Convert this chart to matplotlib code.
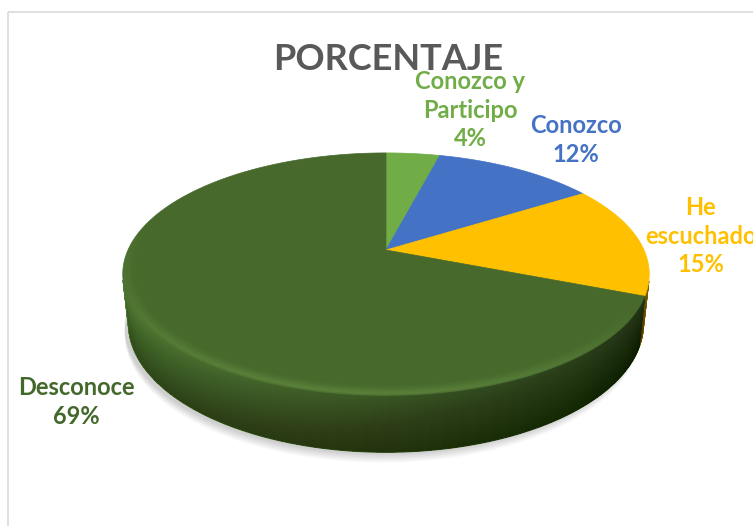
import numpy as np
import matplotlib.pyplot as plt
from matplotlib.patches import Polygon, Rectangle
from matplotlib.collections import LineCollection
import matplotlib.colors as mcolors

# datos
etiquetas = ['Conozco y\nParticipo', 'Conozco', 'He\nescuchado', 'Desconoce']
valores = [4, 12, 15, 69]
colores = ['#70AD47', '#4472C4', '#FFC000', '#476A2C']
colores_texto = ['#70AD47', '#4472C4', '#FFC000', '#43682B']
pos_texto = [(470, 110), (576, 140), (701, 236), (76, 402)]
titulo = 'PORCENTAJE'

W, H = 753, 526
CX, CY, ESC = 386, 250, 258
ELEV = np.radians(26.8)
DIST = 4.5
GROSOR = 0.218


def proyectar(theta, y, r=1.0):
    X = r * np.sin(theta)
    Z = -r * np.cos(theta)
    up = y * np.cos(ELEV) - Z * np.sin(ELEV)
    hacia = y * np.sin(ELEV) + Z * np.cos(ELEV)
    s = DIST / (DIST - hacia)
    return CX + X * s * ESC, CY - up * s * ESC


def tono(color, f):
    rgb = np.array(mcolors.to_rgb(color)) * f
    return tuple(np.clip(rgb, 0, 1))


fig = plt.figure(figsize=(W / 100, H / 100), dpi=100)
ax = fig.add_axes([0, 0, 1, 1])
ax.set_xlim(0, W)
ax.set_ylim(H, 0)
ax.axis('off')

ax.add_patch(Rectangle((8, 12), W, H, fill=False, ec='#d9d9d9', lw=1.2))

fracs = np.array(valores) / sum(valores)
limites = np.concatenate([[0], np.cumsum(fracs)]) * 2 * np.pi

# sombra
t = np.linspace(0, 2 * np.pi, 200)
bx, by = proyectar(t, -GROSOR)
for k in range(8):
    ax.add_patch(Polygon(np.column_stack([bx - 4, by + 2 + k * 1.2]),
                         closed=True, fc='#000000', ec='none', alpha=0.025, zorder=1))

# lado (solo la parte visible)
z_min = 1 / (DIST * np.cos(ELEV))
paso = np.radians(0.5)
for i, color in enumerate(colores):
    a0, a1 = limites[i], limites[i + 1]
    n = max(2, int((a1 - a0) / paso))
    angs = np.linspace(a0, a1, n + 1)
    for j in range(n):
        ta, tb = angs[j], angs[j + 1]
        tm = (ta + tb) / 2
        if -np.cos(tm) < z_min:
            continue
        c = tono(color, 0.8 - 0.34 * np.sin(tm))
        xa0, ya0 = proyectar(ta, 0.0)
        xb0, yb0 = proyectar(tb, 0.0)
        xa1, ya1 = proyectar(ta, -GROSOR)
        xb1, yb1 = proyectar(tb, -GROSOR)
        ax.add_patch(Polygon([(xa0, ya0), (xb0, yb0), (xb1, yb1), (xa1, ya1)],
                             closed=True, fc=c, ec=c, lw=0.8, zorder=2))

# degradado vertical del lado
ang_vis = np.arccos(-z_min)
arco_lado = np.linspace(ang_vis, 2 * np.pi - ang_vis, 300)
capas = 24
for k in range(1, capas):
    yk = -GROSOR * k / capas
    tx, ty = proyectar(arco_lado, yk)
    ux, uy = proyectar(arco_lado[::-1], -GROSOR)
    ax.add_patch(Polygon(np.column_stack([np.r_[tx, ux], np.r_[ty, uy]]),
                         closed=True, fc='black', ec='none', alpha=0.016, zorder=2.5))

# cara superior
for i, color in enumerate(colores):
    a0, a1 = limites[i], limites[i + 1]
    angs = np.linspace(a0, a1, max(3, int((a1 - a0) / paso)))
    px, py = proyectar(angs, 0.0)
    pts = [(CX, CY)] + list(zip(px, py))
    ax.add_patch(Polygon(pts, closed=True, fc=color, ec=color, lw=0.5, zorder=3))

# brillo suave del bisel (mas fuerte al frente-izquierda)
arco = np.linspace(limites[3] + 0.1, 2 * np.pi * 0.78, 200)
peso = np.clip(np.sin((arco - arco[0]) / (arco[-1] - arco[0]) * np.pi), 0, 1) ** 0.7
for r, a in [(0.995, 0.16), (0.985, 0.14), (0.975, 0.1), (0.965, 0.06), (0.955, 0.03)]:
    px, py = proyectar(arco, 0.0, r)
    segs = np.stack([np.column_stack([px[:-1], py[:-1]]),
                     np.column_stack([px[1:], py[1:]])], axis=1)
    cols = np.zeros((len(segs), 4))
    cols[:, :3] = mcolors.to_rgb('#8cbf64')
    cols[:, 3] = a * peso[:-1]
    ax.add_collection(LineCollection(segs, colors=cols, lw=2.6, zorder=4))

ax.text(388, 60, titulo, ha='center', va='center', fontsize=26,
        fontweight='bold', color='#595959', family='Lato', zorder=5)

for etq, val, col, (x, y) in zip(etiquetas, valores, colores_texto, pos_texto):
    ax.text(x, y, f'{etq}\n{val}%', ha='center', va='center', fontsize=17,
            fontweight='bold', color=col, family='Lato', linespacing=1.3,
            multialignment='center', zorder=6)

fig.savefig('out.png', dpi=100)
